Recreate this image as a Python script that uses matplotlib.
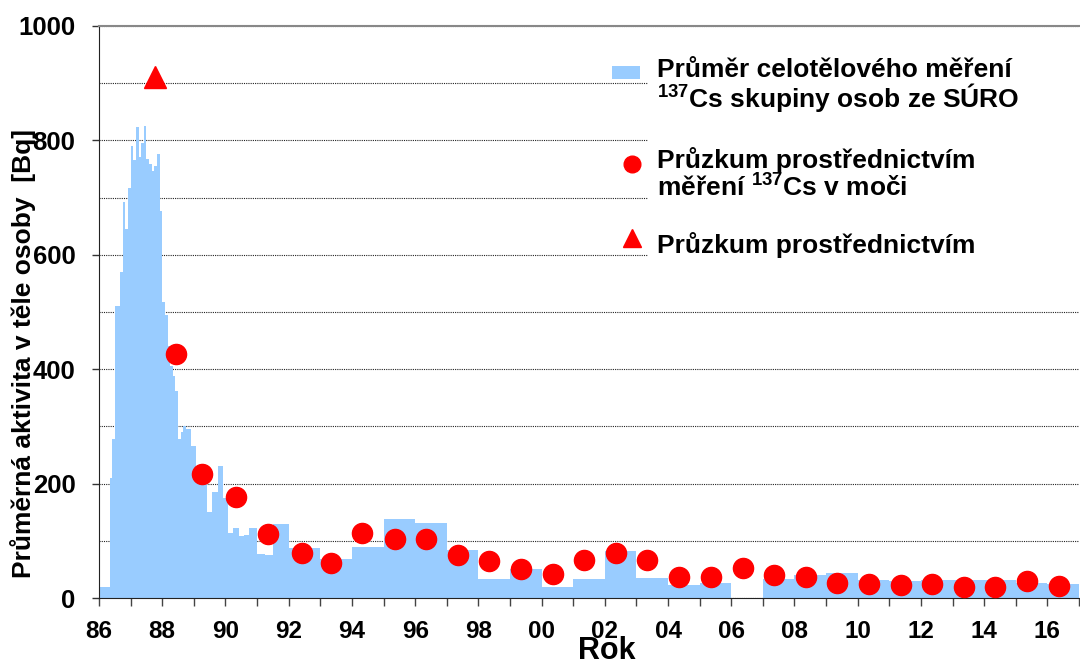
import matplotlib
matplotlib.use("Agg")
import matplotlib.pyplot as plt
from matplotlib.patches import Rectangle
from matplotlib.ticker import MultipleLocator, FixedLocator
import numpy as np

# Fonts (Arial-like, bold everywhere)
plt.rcParams['font.family'] = ['Liberation Sans', 'DejaVu Sans']
plt.rcParams['font.weight'] = 'bold'
plt.rcParams['mathtext.fontset'] = 'custom'
plt.rcParams['mathtext.rm'] = 'Liberation Sans:bold'
plt.rcParams['mathtext.bf'] = 'Liberation Sans:bold'
plt.rcParams['mathtext.default'] = 'bf'

# Whole-body measurement (step histogram): bin edges in years and mean activity [Bq]
hist_edges = [1986.0, 1986.333, 1986.417, 1986.5, 1986.583, 1986.667, 1986.75, 1986.833,
              1986.917, 1987.0, 1987.083, 1987.167, 1987.25, 1987.333, 1987.417, 1987.5,
              1987.583, 1987.667, 1987.75, 1987.833, 1987.917, 1988.0, 1988.083, 1988.167,
              1988.25, 1988.333, 1988.417, 1988.5, 1988.583, 1988.667, 1988.75, 1988.917,
              1989.083, 1989.417, 1989.583, 1989.75, 1989.917, 1990.083, 1990.25, 1990.417,
              1990.583, 1990.75, 1991.0, 1991.25, 1991.5,
              1992, 1993, 1994, 1995, 1996, 1997, 1998, 1999, 2000, 2001, 2002, 2003,
              2004, 2005, 2006, 2007, 2008, 2009, 2010, 2011, 2012, 2013, 2014, 2015,
              2016, 2017]
hist_values = [19, 210, 278, 510, 510, 570, 693, 645, 716,
               791, 766, 823, 771, 796, 825, 767, 759, 747, 755, 776, 677,
               518, 494, 440, 405, 388, 362, 278, 290, 300, 295,
               265, 225, 150, 185, 231, 174,
               113, 122, 108, 110, 122,
               77, 75, 129,
               88, 68, 90, 138, 131, 84, 34, 51, 19, 34, 82, 35,
               23, 27, 0, 33, 40, 44, 31, 29, 31, 31, 31, 26, 24]

# Urine 137Cs survey (circles)
urine_years = [1988.45, 1989.27, 1990.34, 1991.35, 1992.43, 1993.35, 1994.33, 1995.35,
               1996.35, 1997.35, 1998.34, 1999.35, 2000.35, 2001.35, 2002.35, 2003.35,
               2004.35, 2005.35, 2006.36, 2007.36, 2008.36, 2009.36, 2010.37, 2011.37,
               2012.35, 2013.35, 2014.35, 2015.35, 2016.36]
urine_values = [427, 217, 177, 112, 78, 62, 114, 103,
                104, 76, 65, 50, 42, 66, 79, 66,
                36, 37, 52, 40, 36, 27, 24, 23,
                24, 19, 20, 30, 21]

# Other survey (triangle)
tri_years = [1987.76]
tri_values = [911]

legend_lines = [["Průměr celotělového měření", "$^{137}$Cs skupiny osob ze SÚRO"],
                ["Průzkum prostřednictvím", "měření $^{137}$Cs v moči"],
                ["Průzkum prostřednictvím"]]

BAR_COLOR = '#99CCFF'
RED = '#FF0000'

fig = plt.figure(figsize=(10.8, 6.61), dpi=100)
ax = fig.add_axes([99/1080, 1 - 598/661, 980/1080, 572/661])

ax.stairs(hist_values, hist_edges, fill=True, color=BAR_COLOR, zorder=1)
ax.plot(urine_years, urine_values, 'o', color=RED, markersize=14.5, linestyle='none', zorder=3)
ax.plot(tri_years, tri_values, '^', color=RED, markersize=16.5, linestyle='none', zorder=3)

ax.set_xlim(1986, 2017)
ax.set_ylim(0, 1000)

# grid: dotted lines every 100 behind the bars
ax.set_axisbelow(True)
ax.yaxis.set_major_locator(MultipleLocator(200))
ax.yaxis.set_minor_locator(MultipleLocator(100))
ax.yaxis.grid(True, which='both', linestyle=(0, (1, 1)), color='#222222', linewidth=0.8)
ax.tick_params(axis='y', which='minor', length=0)
ax.tick_params(axis='y', which='major', length=5, width=1, pad=12, labelsize=18.5, color='#333333')

years = np.arange(1986, 2018)
ax.xaxis.set_major_locator(FixedLocator(years[::2]))
ax.xaxis.set_minor_locator(FixedLocator(years[1::2]))
ax.set_xticklabels([f"{y % 100:02d}" for y in years[::2]])
ax.tick_params(axis='x', which='both', length=6, width=1, color='#444444')
ax.tick_params(axis='x', which='major', pad=10, labelsize=17.5)

ax.spines['right'].set_visible(False)
ax.spines['top'].set_color('#888888')
ax.spines['top'].set_linewidth(1.5)
ax.spines['left'].set_color('#222222')
ax.spines['bottom'].set_color('#222222')

ax.set_ylabel("Průměrná aktivita v těle osoby  [Bq]", fontsize=19, fontweight='bold')
ax.yaxis.set_label_coords(-0.064, 0.427)
ax.set_xlabel("Rok", fontsize=22, fontweight='bold')
ax.xaxis.set_label_coords(0.518, -0.066)

# legend, laid out by hand: white box hides the gridlines behind the texts
ax.add_patch(Rectangle((0.5602, 0.575), 0.44, 0.395, transform=ax.transAxes,
                       facecolor='white', edgecolor='none', zorder=0.8))
ax.add_patch(Rectangle((0.5235, 0.9082), 0.0286, 0.0219, transform=ax.transAxes,
                       facecolor=BAR_COLOR, edgecolor='none', zorder=4, clip_on=False))
ax.plot([0.5439], [0.7587], 'o', color=RED, markersize=12, transform=ax.transAxes,
        clip_on=False, zorder=4)
ax.plot([0.5439], [0.6289], '^', color=RED, markersize=12.5, transform=ax.transAxes,
        clip_on=False, zorder=4)

baselines_px = [[76.7, 106.7], [168.3, 196.7], [253.3]]
for lines, ys in zip(legend_lines, baselines_px):
    for txt, ypx in zip(lines, ys):
        ax.text(0.5694, (598 - ypx) / 572, txt, transform=ax.transAxes, fontsize=19,
                fontweight='bold', ha='left', va='baseline', zorder=5)

fig.savefig("out.png", dpi=100)
